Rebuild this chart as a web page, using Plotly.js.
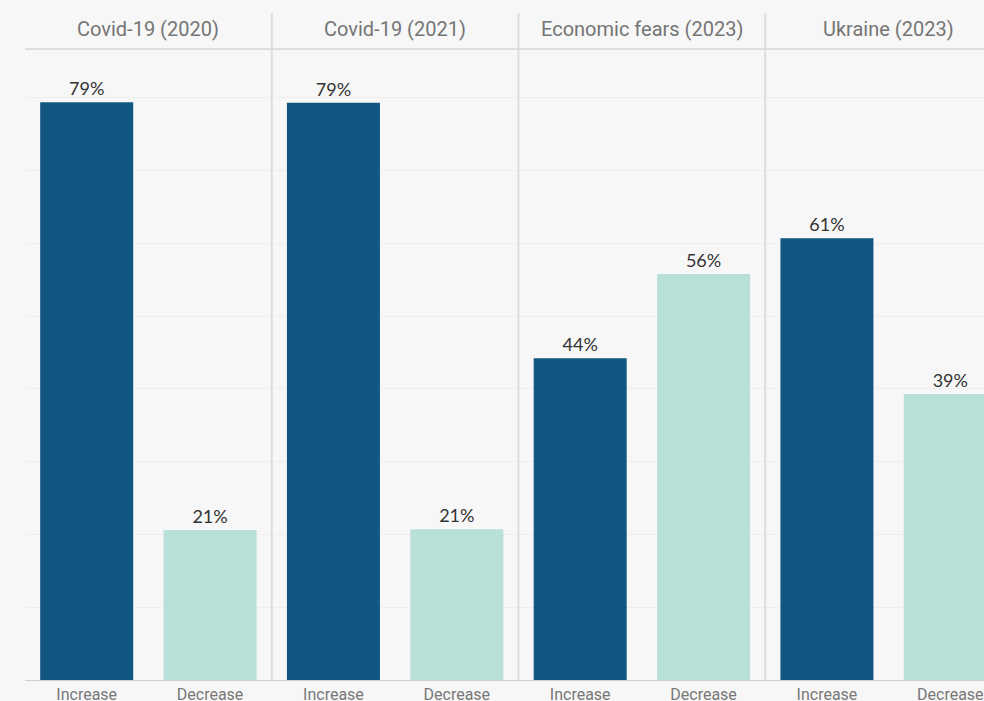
<!DOCTYPE html>
<html>
<head>
<meta charset="utf-8">
<script src="https://cdn.plot.ly/plotly-3.0.1.min.js"></script>
<style>
  html, body { margin: 0; padding: 0; background: #f7f7f7; overflow: hidden; }
  #chart { width: 1020px; height: 701px; }
</style>
</head>
<body>
<div id="chart"></div>
<script>
const panels = ["Covid-19 (2020)", "Covid-19 (2021)", "Economic fears (2023)", "Ukraine (2023)"];
const categories = ["Increase", "Decrease"];
const increaseValues = [79.4, 79.3, 44.2, 60.7];
const decreaseValues = [20.6, 20.7, 55.8, 39.3];
const barColors = ["#125782", "#b9dfd9"];

const traces = [];
const layout = {
  width: 1020,
  height: 701,
  paper_bgcolor: "#f7f7f7",
  plot_bgcolor: "#f7f7f7",
  margin: { l: 25, r: 8, t: 49, b: 21 },
  showlegend: false,
  bargap: 0.246,
  font: { family: "Roboto, sans-serif", color: "#777" },
  shapes: [],
  annotations: []
};

const n = panels.length;
for (let i = 0; i < n; i++) {
  const sfx = i === 0 ? "" : String(i + 1);
  const vals = [increaseValues[i], decreaseValues[i]];
  traces.push({
    type: "bar",
    x: categories,
    y: vals,
    xaxis: "x" + sfx,
    yaxis: "y" + sfx,
    marker: { color: barColors },
    text: vals.map(v => Math.round(v) + "%"),
    textposition: "outside",
    textfont: { family: "Lato, Roboto, sans-serif", size: 18, color: "#333" },
    cliponaxis: false,
    hoverinfo: "skip"
  });
  layout["xaxis" + sfx] = {
    domain: [i / n, (i + 1) / n],
    anchor: "y" + sfx,
    type: "category",
    showgrid: false,
    zeroline: false,
    showline: true,
    linecolor: "#cfcfcf",
    linewidth: 1,
    ticks: "",
    tickfont: { family: "Roboto, sans-serif", size: 16, color: "#777" },
    fixedrange: true
  };
  layout["yaxis" + sfx] = {
    domain: [0, 1],
    anchor: "x" + sfx,
    range: [0, 86.7],
    dtick: 10,
    showgrid: true,
    gridcolor: "#eeeeee",
    gridwidth: 1,
    zeroline: false,
    showticklabels: false,
    ticks: "",
    fixedrange: true
  };
  layout.annotations.push({
    xref: "paper", yref: "paper",
    x: (i + 0.5) / n, y: 1 + 20 / 631,
    xanchor: "center", yanchor: "middle",
    text: panels[i],
    showarrow: false,
    font: { family: "Roboto, sans-serif", size: 20, color: "#757575" }
  });
  if (i > 0) {
    layout.shapes.push({
      type: "line", xref: "paper", yref: "paper",
      x0: i / n, x1: i / n, y0: 0, y1: 1 + 36 / 631,
      line: { color: "#dddddd", width: 2 },
      layer: "above"
    });
  }
}
layout.shapes.push({
  type: "line", xref: "paper", yref: "paper",
  x0: 0, x1: 1, y0: 1, y1: 1,
  line: { color: "#d6d6d6", width: 1.5 },
  layer: "above"
});

Plotly.newPlot("chart", traces, layout, { displayModeBar: false, staticPlot: true });
</script>
</body>
</html>
